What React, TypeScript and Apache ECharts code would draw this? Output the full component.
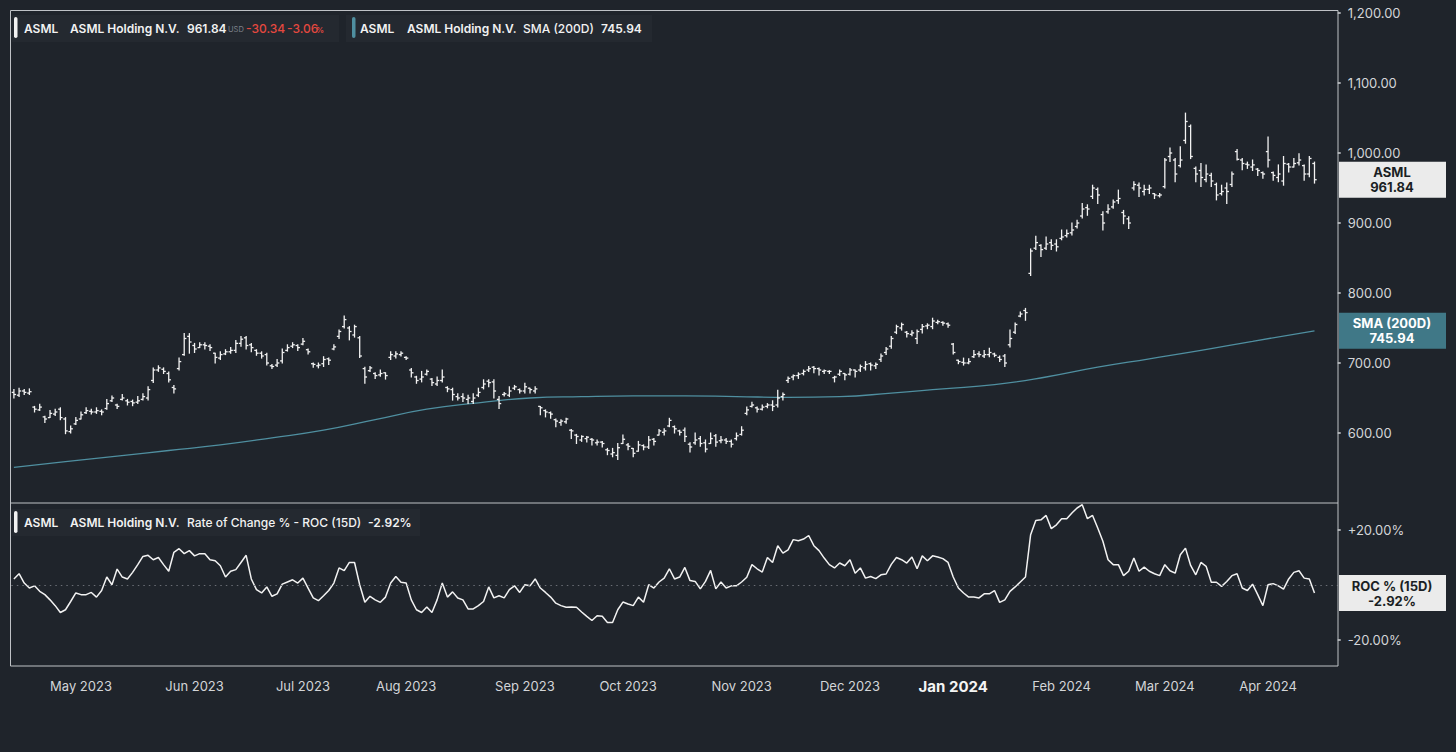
import React, { useEffect, useRef } from "react";
import * as echarts from "echarts";

// ---------- DATA ----------
const tradingMonths = ["2023-04","2023-05","2023-06","2023-07","2023-08","2023-09","2023-10","2023-11","2023-12","2024-01","2024-02","2024-03","2024-04"];
const monthNames = ["Jan","Feb","Mar","Apr","May","Jun","Jul","Aug","Sep","Oct","Nov","Dec"];
const tradingDays = [
  [12,13,14,17,18,19,20,21,24,25,26,27,28],
  [1,2,3,4,5,8,9,10,11,12,15,16,17,18,19,22,23,24,25,26,30,31],
  [1,2,5,6,7,8,9,12,13,14,15,16,20,21,22,23,26,27,28,29,30],
  [3,5,6,7,10,11,12,13,14,17,18,19,20,21,24,25,26,27,28,31],
  [1,2,3,4,7,8,9,10,11,14,15,16,17,18,21,22,23,24,25,28,29,30,31],
  [1,5,6,7,8,11,12,13,14,15,18,19,20,21,22,25,26,27,28,29],
  [2,3,4,5,6,9,10,11,12,13,16,17,18,19,20,23,24,25,26,27,30,31],
  [1,2,3,6,7,8,9,10,13,14,15,16,17,20,21,22,24,27,28,29,30],
  [1,4,5,6,7,8,11,12,13,14,15,18,19,20,21,22,26,27,28,29],
  [2,3,4,5,8,9,10,11,12,16,17,18,19,22,23,24,25,26,29,30,31],
  [1,2,5,6,7,8,9,12,13,14,15,16,20,21,22,23,26,27,28,29],
  [1,4,5,6,7,8,11,12,13,14,15,18,19,20,21,22,25,26,27,28],
  [1,2,3,4,5,8,9,10,11,12],
];
const padCategories = ["pad1","pad2","pad3","pad4"];

// [open, close, low, high]
const ohlcApr23 = [[658,655,650,662],[654,660,652,664],[660,658,655,662],[657,659,655,663],[637,634,630,638],[633,637,632,641],[623,620,615,624],[622,628,622,632],[627,630,625,634],[634,622,619,636],[620,603,599,622],[602,606,600,610],[613,618,612,622]];
const ohlcMay23 = [[620,626,620,630],[629,632,628,636],[631,630,627,634],[630,632,628,636],[631,630,626,633],[635,642,634,648],[646,650,645,653],[640,638,635,641],[648,650,647,655],[646,644,640,648],[645,643,639,647],[644,646,642,652],[648,652,647,656],[650,662,647,666],[675,690,672,693],[690,693,688,696],[691,688,685,693],[685,676,673,687],[665,663,657,668],[692,702,690,707],[712,735,711,742],[738,730,714,742]];
const ohlcJun23 = [[725,720,715,728],[722,726,722,729],[726,725,720,729],[724,722,718,726],[714,708,700,714],[707,712,705,716],[713,716,712,719],[716,718,714,722],[718,728,715,732],[728,734,724,738],[736,725,720,738],[726,722,716,728],[718,714,711,719],[714,710,707,716],[712,700,697,714],[696,695,692,698],[697,700,695,705],[703,715,700,720],[718,722,717,726],[724,726,722,729],[725,722,718,726]];
const ohlcJul23 = [[727,731,726,735],[719,716,713,720],[699,698,694,700],[696,697,693,700],[699,705,695,709],[706,704,698,707],[720,723,719,726],[738,745,735,747],[752,762,750,767],[750,745,733,752],[740,752,737,754],[736,710,708,738],[692,680,671,694],[689,693,688,695],[685,682,678,686],[683,685,681,690],[686,682,677,686],[708,712,705,716],[710,713,707,716],[712,714,710,716]];
const ohlcAug23 = [[708,707,705,709],[690,686,680,692],[680,675,671,681],[677,680,673,688],[684,688,683,690],[677,672,668,678],[670,675,668,680],[675,680,673,690],[665,663,659,666],[662,655,647,664],[652,650,647,656],[652,650,645,656],[648,650,642,654],[645,650,642,656],[654,658,652,664],[665,670,663,676],[674,672,666,676],[673,660,650,676],[648,642,635,652],[655,656,653,658],[654,660,652,666],[664,666,662,668],[662,660,657,663]];
const ohlcSep23 = [[660,666,657,671],[664,662,657,664],[660,663,657,666],[638,636,626,638],[632,630,623,633],[629,627,621,630],[619,617,609,620],[615,617,611,619],[616,620,614,621],[604,603,592,605],[597,595,585,598],[590,595,588,596],[592,594,587,595],[591,590,583,592],[586,587,583,590],[587,585,580,588],[576,575,569,578],[570,572,566,578],[568,579,562,585],[585,591,585,597]];
const ohlcOct23 = [[583,581,576,585],[578,571,566,578],[574,583,574,588],[582,580,576,583],[580,590,578,595],[591,588,583,592],[597,603,597,605],[601,603,597,606],[610,618,609,621],[609,606,600,610],[603,601,597,604],[604,595,588,607],[584,580,573,586],[586,590,584,600],[592,585,581,595],[586,577,573,590],[585,592,585,600],[596,587,581,598],[589,590,586,595],[590,588,585,592],[588,584,580,590],[592,596,590,600]];
const ohlcNov23 = [[598,604,597,609],[628,633,626,637],[638,640,637,644],[636,634,630,637],[634,637,633,640],[638,640,636,642],[640,638,632,646],[640,650,637,661],[652,655,647,657],[675,678,672,680],[680,682,676,683],[682,684,678,686],[685,688,683,690],[690,692,688,695],[694,692,686,695],[692,690,683,693],[688,689,685,690],[688,688,685,689],[679,680,673,681],[684,688,682,690],[685,683,676,685]];
const ohlcDec23 = [[684,690,683,692],[690,688,680,690],[690,695,688,697],[693,698,690,702],[699,697,690,700],[696,698,692,700],[705,710,702,713],[715,720,712,722],[724,735,721,738],[744,752,742,754],[750,755,747,757],[744,742,737,745],[741,743,739,746],[735,745,728,747],[748,752,743,755],[753,754,749,756],[752,760,749,764],[758,759,756,761],[758,757,754,759],[756,754,751,757]];
const ohlcJan24 = [[727,715,713,728],[704,702,699,704],[701,700,697,707],[700,702,699,706],[709,712,708,718],[713,712,709,716],[710,712,708,718],[712,715,709,721],[713,711,709,714],[708,705,702,710],[710,700,695,712],[726,735,723,747],[744,755,742,757],[767,770,766,773],[775,772,761,778],[828,860,825,863],[864,872,862,881],[868,862,852,869],[864,870,862,880],[872,868,862,876],[870,866,860,876]];
const ohlcFeb24 = [[878,880,876,890],[882,885,880,890],[886,890,883,900],[895,900,893,904],[910,920,907,928],[922,920,911,926],[938,950,935,954],[948,940,928,950],[912,900,890,916],[916,920,914,926],[923,930,921,933],[932,935,928,947],[915,910,899,918],[906,900,892,909],[950,955,947,959],[954,950,938,957],[945,948,940,954],[948,950,942,954],[942,940,935,942],[939,940,937,942]];
const ohlcMar24 = [[952,990,950,992],[995,1000,988,1007],[990,970,959,992],[982,990,980,1009],[1018,1045,1014,1057],[1038,995,992,1040],[978,970,959,980],[975,965,952,985],[962,970,959,983],[968,960,952,971],[955,940,933,957],[942,945,940,954],[950,945,928,957],[955,970,952,973],[1002,991,990,1005],[990,985,976,992],[984,983,978,987],[980,983,975,990],[977,975,968,978],[972,970,964,973]];
const ohlcApr24 = [[1002,990,980,1023],[972,968,961,973],[965,970,959,983],[960,985,954,995],[984,980,973,985],[980,985,980,992],[986,990,983,999],[982,970,961,983],[970,992.18,966,995],[985,961.84,957,987]];

// ROC % (15D)
const rocApr23 = [2.2,4.1,0.7,-1.1,-0.3,-2.3,-3.5,-5.4,-7.5,-10,-9,-6,-2.9];
const rocMay23 = [-3.5,-3.5,-2.7,-4.4,-2,2.9,0.1,5.8,2.9,2.2,4.6,7.4,10.4,10.8,9.2,10,7.4,5,11.9,13.2,11.4,12.5];
const rocJun23 = [10.6,11.4,11.4,9.2,8.8,7.0,2.9,5,5.6,8.2,10.8,2.2,-1.7,-2.9,-0.7,-4.1,-3.2,0.3,1.1,1.9,0.7];
const rocJul23 = [2.5,-1.1,-4.7,-5.7,-3.9,-2,0.7,6.2,5.2,8.2,8.2,0.1,-6.3,-4.1,-5.4,-6.3,-4.4,0.7,3.1,1.0];
const rocAug23 = [0.7,-5.4,-9,-10,-8,-10,-5.4,0.7,-4.4,-2.5,-4.7,-5.4,-8.7,-8.7,-7.5,-6,-0.7,-4.7,-3.9,-4.7,-1.7,-0.3,-2.7];
const rocSep23 = [0.1,-0.3,2.2,-1.1,-2.7,-4.4,-6.6,-7.5,-8.1,-8,-8.1,-9.8,-11.4,-12.9,-11.2,-11.4,-13.6,-13.6,-9,-6.2];
const rocOct23 = [-6.9,-7.5,-4.4,-6.3,0.1,-1.1,1.1,2.5,5.9,2.2,2.9,6.4,1.6,1.3,-1.4,1.3,5.3,-1.4,1.1,-1.1,-0.3,-0.3];
const rocNov23 = [1.1,2.8,7.4,5.9,4.7,10,8.2,14.3,11.6,12.8,16.5,16.1,16.7,18.0,14.3,12.5,9.8,7.4,6.2,8,7];
const rocDec23 = [9.2,4.3,6.2,2.5,3.1,2.3,3.7,4.0,7.5,10,9.2,8,10.2,5.9,10.6,8.8,10.6,10.2,9.6,8.2];
const rocJan24 = [2.9,-1.1,-2.9,-4.4,-4.4,-4.7,-3.2,-3.2,-2,-6.3,-5.4,-2.3,-0.7,1.1,2.9,18.3,23.5,23.7,25.3,20.5,21.9];
const rocFeb24 = [24.1,24.1,26.2,28,29.2,24.1,25.3,20.7,15.9,9.2,7.4,7.4,3.4,5,9.8,5,6.5,5,4.1,3.4];
const rocMar24 = [7.4,5.2,4.3,11,13.4,7.1,3.7,8.2,6.8,1.0,1.0,-0.5,1.3,3.4,4.1,-1.1,-2,0.3,-3.5,-7.5];
const rocApr24 = [0.1,0.5,-0.3,-1.5,2.2,4.6,5.2,2.5,2.2,-2.92];

// SMA (200D) read at bar indices
const smaPoints = [[0,551],[10,559],[20,567],[30,575],[40,583],[50,593],[60,604],[70,619],[80,634],[90,643],[100,650],[110,652],[120,653],[130,653],[140,652],[150,651],[160,652],[170,657],[180,663],[190,669],[200,680],[210,694],[220,706],[230,718],[240,731],[252,745.94]];

const priceTicks = [600,700,800,900,1000,1100,1200];
const rocTicks = [-20,20];
const lastClose = 961.84;
const lastChange = "-30.34";
const lastChangePct = "-3.06";
const lastSma = 745.94;
const lastRoc = -2.92;

// ---------- DERIVED STRUCTURES ----------
const ohlcAll = [ohlcApr23,ohlcMay23,ohlcJun23,ohlcJul23,ohlcAug23,ohlcSep23,ohlcOct23,ohlcNov23,ohlcDec23,ohlcJan24,ohlcFeb24,ohlcMar24,ohlcApr24].flat();
const rocAll = [rocApr23,rocMay23,rocJun23,rocJul23,rocAug23,rocSep23,rocOct23,rocNov23,rocDec23,rocJan24,rocFeb24,rocMar24,rocApr24].flat();

const categories: string[] = [];
const monthStart: Record<number, string> = {};
tradingMonths.forEach((ym, mi) => {
  tradingDays[mi].forEach((d, di) => {
    if (di === 0 && mi > 0) {
      const [y, m] = ym.split("-");
      monthStart[categories.length] = monthNames[parseInt(m, 10) - 1] + " " + y;
    }
    categories.push(ym + "-" + String(d).padStart(2, "0"));
  });
});
const allCategories = categories.concat(padCategories);

const BG = "#1f242b";
const FONT = "Inter, 'Noto Sans', sans-serif";
const FRAME = "#bfc2c6";

const GRID_LEFT = 11.32;
const GRID_W = 1326.4;

export default function App() {
  const ref = useRef<HTMLDivElement>(null);
  useEffect(() => {
    document.body.style.margin = "0";
    const chart = echarts.init(ref.current!, undefined, { renderer: "svg" });
    const option: any = {
      animation: false,
      backgroundColor: BG,
      textStyle: { fontFamily: FONT },
      grid: [
        { left: GRID_LEFT, top: 10, width: GRID_W, height: 492.5 },
        { left: GRID_LEFT, top: 503, width: GRID_W, height: 163 },
      ],
      xAxis: [
        { type: "category", gridIndex: 0, data: allCategories, show: false },
        {
          type: "category", gridIndex: 1, data: allCategories,
          axisLine: { show: false }, axisTick: { show: false }, splitLine: { show: false },
          axisLabel: {
            interval: (idx: number) => monthStart[idx] !== undefined,
            formatter: (_v: string, idx: number) => {
              const s = monthStart[idx];
              if (!s) return "";
              return s.startsWith("Jan") ? "{b|" + s + "}" : s;
            },
            color: "#d3d5d8", fontSize: 13, fontFamily: FONT, margin: 13,
            rich: { b: { fontSize: 15, fontWeight: "bold", color: "#f4f4f4", fontFamily: FONT } },
          },
        },
      ],
      yAxis: [
        {
          type: "value", gridIndex: 0, position: "right", min: 500.7, max: 1204.3,
          splitLine: { show: false }, axisLine: { show: false },
          axisTick: { show: true, length: 3, lineStyle: { color: "#d0d3d6", width: 1.5 }, customValues: priceTicks },
          axisLabel: {
            customValues: priceTicks, color: "#d3d5d8", fontSize: 13, fontFamily: FONT, margin: 10,
            formatter: (v: number) => v.toLocaleString("en-US", { minimumFractionDigits: 2, maximumFractionDigits: 2 }),
          },
        },
        {
          type: "value", gridIndex: 1, position: "right", min: -29.45, max: 29.82,
          splitLine: { show: false }, axisLine: { show: false },
          axisTick: { show: true, length: 3, lineStyle: { color: "#d0d3d6", width: 1.5 }, customValues: rocTicks },
          axisLabel: {
            customValues: rocTicks, color: "#d3d5d8", fontSize: 13, fontFamily: FONT, margin: 10,
            formatter: (v: number) => (v > 0 ? "+" : "") + v.toFixed(2) + "%",
          },
        },
      ],
      series: [
        {
          type: "line", xAxisIndex: 0, yAxisIndex: 0, data: smaPoints, smooth: true,
          symbol: "none", lineStyle: { color: "#4f8fa0", width: 1.3 }, silent: true, z: 2,
        },
        {
          type: "custom", xAxisIndex: 0, yAxisIndex: 0, z: 3,
          data: ohlcAll.map((d, i) => [i, d[0], d[1], d[2], d[3]]),
          encode: { x: 0, y: [1, 2, 3, 4] },
          renderItem: (_p: any, api: any) => {
            const i = api.value(0);
            const o = api.coord([i, api.value(1)]);
            const c = api.coord([i, api.value(2)]);
            const l = api.coord([i, api.value(3)]);
            const h = api.coord([i, api.value(4)]);
            const x = o[0];
            const t = 2.2;
            const style = { stroke: "#f2f2f2", lineWidth: 1.3 };
            return {
              type: "group",
              children: [
                { type: "line", shape: { x1: x, y1: h[1] - 0.5, x2: x, y2: l[1] + 0.5 }, style },
                { type: "line", shape: { x1: x - t, y1: o[1], x2: x, y2: o[1] }, style },
                { type: "line", shape: { x1: x, y1: c[1], x2: x + t, y2: c[1] }, style },
              ],
            };
          },
        },
        {
          type: "line", xAxisIndex: 1, yAxisIndex: 1, data: rocAll, symbol: "none",
          lineStyle: { color: "#f2f2f2", width: 1.5 }, silent: true,
          markLine: {
            silent: true, symbol: "none", label: { show: false },
            lineStyle: { color: "#6a6e75", type: [1.5, 4], width: 1 },
            data: [{ yAxis: 0 }],
          },
        },
      ],
    };
    chart.setOption(option);

    const yA = chart.convertToPixel({ yAxisIndex: 0 }, lastClose) as number;
    const yS = chart.convertToPixel({ yAxisIndex: 0 }, lastSma) as number;
    const yR = chart.convertToPixel({ yAxisIndex: 1 }, lastRoc) as number;

    const txt = (text: string, x: number, y: number, extra: any = {}) => ({
      type: "text", x, y, silent: true, z: 20,
      style: {
        text, fill: "#f2f2f2", fontSize: 12, fontWeight: 600, fontFamily: FONT,
        verticalAlign: "middle", align: "left", ...extra,
      },
    });
    const box = (y: number, fill: string, color: string, l1: string, l2: string) => ([
      { type: "rect", shape: { x: 1339, y: y - 18, width: 107, height: 36 }, style: { fill }, z: 18, silent: true },
      txt(l1, 1392, y - 7.5, { align: "center", fill: color, fontSize: 13, fontWeight: 700 }),
      txt(l2, 1392, y + 7.5, { align: "center", fill: color, fontSize: 13, fontWeight: 700 }),
    ]);

    const graphics: any[] = [
      { type: "rect", shape: { x: 10.5, y: 10.5, width: 1327.5, height: 655.5 }, style: { fill: "none", stroke: FRAME, lineWidth: 1 }, z: 15, silent: true },
      { type: "line", shape: { x1: 10.5, y1: 503, x2: 1338, y2: 503 }, style: { stroke: FRAME, lineWidth: 1 }, z: 15, silent: true },
      // legend boxes
      { type: "rect", shape: { x: 12, y: 15, width: 327, height: 27 }, style: { fill: "#242930" }, z: 16, silent: true },
      { type: "rect", shape: { x: 346, y: 15, width: 306, height: 27 }, style: { fill: "#242930" }, z: 16, silent: true },
      { type: "rect", shape: { x: 12, y: 509, width: 408, height: 27 }, style: { fill: "#242930" }, z: 16, silent: true },
      { type: "rect", shape: { x: 14, y: 17, width: 3.5, height: 21, r: 1.75 }, style: { fill: "#f2f2f2" }, z: 17, silent: true },
      txt("ASML", 24, 28),
      txt("ASML Holding N.V.", 70, 28),
      txt(lastClose.toFixed(2), 187, 28),
      txt("USD", 228, 29.5, { fontSize: 7.5, fontWeight: 400, fill: "#7d828a" }),
      txt(lastChange, 246, 28, { fill: "#e5483f", fontWeight: 500 }),
      txt(lastChangePct, 287, 28, { fill: "#e5483f", fontWeight: 500 }),
      txt("%", 316, 29.5, { fill: "#e5483f", fontSize: 8 }),
      { type: "rect", shape: { x: 352, y: 17, width: 3.5, height: 21, r: 1.75 }, style: { fill: "#4f8fa0" }, z: 17, silent: true },
      txt("ASML", 360, 28),
      txt("ASML Holding N.V.", 407, 28),
      txt("SMA (200D)", 523, 28, { fontWeight: 500 }),
      txt(lastSma.toFixed(2), 601, 28),
      { type: "rect", shape: { x: 14, y: 511, width: 3.5, height: 22, r: 1.75 }, style: { fill: "#f2f2f2" }, z: 17, silent: true },
      txt("ASML", 24, 522),
      txt("ASML Holding N.V.", 70, 522),
      txt("Rate of Change % - ROC (15D)", 187, 522, { fontWeight: 500 }),
      txt(lastRoc.toFixed(2) + "%", 368, 522),
      ...box(yA, "#ebebeb", "#1b1f24", "ASML", lastClose.toFixed(2)),
      ...box(yS, "#407887", "#ffffff", "SMA (200D)", lastSma.toFixed(2)),
      ...box(yR, "#ebebeb", "#1b1f24", "ROC % (15D)", lastRoc.toFixed(2) + "%"),
    ];
    chart.setOption({ graphic: graphics });
    return () => chart.dispose();
  }, []);
  return <div ref={ref} style={{ width: 1456, height: 752, position: "fixed", left: 0, top: 0, background: BG }} />;
}
